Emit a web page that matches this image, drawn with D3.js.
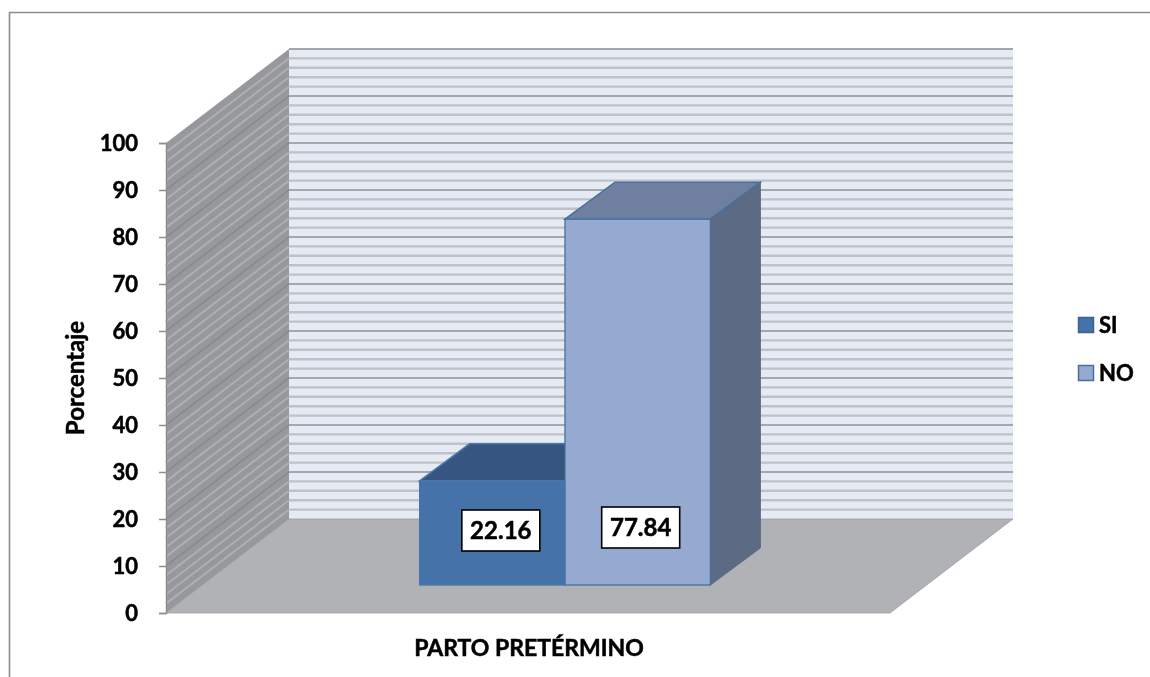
<!DOCTYPE html>
<html>
<head>
<meta charset="utf-8">
<script src="https://cdn.jsdelivr.net/npm/d3@7"></script>
<style>
  html, body { margin: 0; padding: 0; background: #fff; }
  svg { display: block; }
  text { font-family: Lato, sans-serif; font-weight: 700; fill: #000; stroke: #000; stroke-width: 0.5px; }
</style>
</head>
<body>
<div class="chart"></div>
<script>
const categories = ['PARTO PRETÉRMINO'];
const seriesNames = ['SI', 'NO'];
const seriesValues = [22.16, 77.84];
const seriesLabels = ['22.16', '77.84'];
const yTicks = [0, 10, 20, 30, 40, 50, 60, 70, 80, 90, 100];
const minorTicks = d3.range(0, 101, 2);
const yTitle = 'Porcentaje';

const width = 1150;
const height = 677;

// oblique projection, wall depth and bar depth
const wallDx = 123, wallDy = -94;
const barOffDx = 37, barOffDy = -28;
const barDx = 50, barDy = -37;

const colors = {
  SI: { front: '#4472a8', top: '#355781', side: '#2f4d73', stroke: '#4a76aa' },
  NO: { front: '#95a9d1', top: '#6e7f9f', side: '#5d6b84', stroke: '#44709f' }
};

const root = d3.select('.chart').append('svg')
  .attr('width', width)
  .attr('height', height);

// the reference is a slightly soft screenshot
root.append('filter').attr('id', 'soft')
  .attr('x', 0).attr('y', 0).attr('width', 1).attr('height', 1)
  .append('feGaussianBlur').attr('stdDeviation', 0.45);

const svg = root.append('g').attr('filter', 'url(#soft)');
svg.append('rect').attr('width', width).attr('height', height).attr('fill', '#fff');

const y = d3.scaleLinear().domain([0, 100]).range([613, 143]);
const x0 = d3.scaleBand().domain(categories).range([166, 890]);
const x1 = d3.scaleBand().domain(seriesNames)
  .range([x0(categories[0]), x0(categories[0]) + x0.bandwidth()])
  .paddingInner(0).paddingOuter(1.49);

const poly = pts => pts.map(p => p.join(',')).join(' ');

// frame, only top and left show in the picture
svg.append('path')
  .attr('d', `M9.5,${height + 5}V12.5H${width + 5}`)
  .attr('fill', 'none')
  .attr('stroke', '#8c8c8c')
  .attr('stroke-width', 1.6);

const [xl, xr] = x0.range();

// back wall
svg.append('rect')
  .attr('x', xl + wallDx).attr('y', y(100) + wallDy)
  .attr('width', xr - xl).attr('height', y(0) - y(100))
  .attr('fill', '#e6eaf4');

// side wall
svg.append('polygon')
  .attr('points', poly([[xl, y(0)], [xl, y(100)], [xl + wallDx, y(100) + wallDy], [xl + wallDx, y(0) + wallDy]]))
  .attr('fill', '#96989c');

// gridlines on both walls
const isMajor = d => d % 10 === 0;
svg.append('g').selectAll('line')
  .data(minorTicks.filter(d => d > 0))
  .enter().append('line')
  .attr('x1', xl + wallDx).attr('x2', xr + wallDx)
  .attr('y1', d => y(d) + wallDy).attr('y2', d => y(d) + wallDy)
  .attr('stroke', d => isMajor(d) ? '#8f9093' : '#bfc1c4')
  .attr('stroke-width', d => isMajor(d) ? 1.5 : 2.4);

svg.append('g').selectAll('line')
  .data(minorTicks.filter(d => d > 0 && d < 100))
  .enter().append('line')
  .attr('x1', xl).attr('x2', xl + wallDx)
  .attr('y1', d => y(d)).attr('y2', d => y(d) + wallDy)
  .attr('stroke', d => isMajor(d) ? '#85878a' : '#adafb1')
  .attr('stroke-width', d => isMajor(d) ? 1.3 : 2);

svg.append('line')
  .attr('x1', xl + wallDx).attr('x2', xr + wallDx)
  .attr('y1', y(100) + wallDy).attr('y2', y(100) + wallDy)
  .attr('stroke', '#a4a5a8').attr('stroke-width', 1.5);

// floor
svg.append('polygon')
  .attr('points', poly([[xl, y(0)], [xl + wallDx, y(0) + wallDy], [xr + wallDx, y(0) + wallDy], [xr, y(0)]]))
  .attr('fill', '#b0b2b5')
  .attr('stroke', '#9c9ea1')
  .attr('stroke-width', 0.8);

// axis
const axis = d3.axisLeft(y).tickValues(yTicks).tickSize(7).tickPadding(21);
const axisG = svg.append('g').attr('transform', `translate(${xl},0)`).call(axis);
axisG.selectAll('path, line').attr('stroke', '#8e8e8e').attr('stroke-width', 1.5);
axisG.selectAll('text')
  .style('font-family', 'Lato, sans-serif')
  .style('font-weight', 700)
  .style('font-size', '22px')
  .attr('x', -28)
  .attr('fill', '#000');

// bars, NO drawn last because it overlaps SI's top
const bars = svg.append('g');
seriesNames.forEach((name, i) => {
  const c = colors[name];
  const left = x1(name) + barOffDx;
  const right = left + x1.bandwidth();
  const top = y(seriesValues[i]) + barOffDy;
  const bottom = y(0) + barOffDy;
  bars.append('polygon')
    .attr('points', poly([[right, top], [right + barDx, top + barDy], [right + barDx, bottom + barDy], [right, bottom]]))
    .attr('fill', c.side).attr('stroke', c.side).attr('stroke-width', 1);
  bars.append('polygon')
    .attr('points', poly([[left, top], [left + barDx, top + barDy], [right + barDx, top + barDy], [right, top]]))
    .attr('fill', c.top).attr('stroke', c.stroke).attr('stroke-width', 1.5);
  bars.append('rect')
    .attr('x', left).attr('y', top)
    .attr('width', right - left).attr('height', bottom - top)
    .attr('fill', c.front).attr('stroke', c.stroke).attr('stroke-width', 1.3);
});

// value labels were moved by hand in the original
const labelDx = [8.5, 3];
const labelDy = [-54.5, -57.5];
seriesNames.forEach((name, i) => {
  const cx = x1(name) + barOffDx + x1.bandwidth() / 2 + labelDx[i];
  const cy = y(0) + barOffDy + labelDy[i];
  const g = svg.append('g').attr('transform', `translate(${cx},${cy})`);
  g.append('rect')
    .attr('x', -39).attr('y', -20.5)
    .attr('width', 78).attr('height', 41)
    .attr('fill', '#fff').attr('stroke', '#000').attr('stroke-width', 1.6);
  g.append('text')
    .attr('text-anchor', 'middle')
    .attr('dy', '0.36em')
    .style('font-size', '24px')
    .text(seriesLabels[i]);
});

// y title
svg.append('text')
  .attr('transform', 'translate(84,378) rotate(-90)')
  .attr('text-anchor', 'middle')
  .style('font-size', '24px')
  .text(yTitle);

// category label
svg.append('text')
  .attr('x', 529).attr('y', 656)
  .attr('text-anchor', 'middle')
  .style('font-size', '23px')
  .text(categories[0]);

// legend
const legendY = d3.scalePoint().domain(seriesNames).range([325, 373]);
seriesNames.forEach(name => {
  svg.append('rect')
    .attr('x', 1078.5).attr('y', legendY(name) - 7.5)
    .attr('width', 15).attr('height', 15)
    .attr('fill', colors[name].front)
    .attr('stroke', name === 'SI' ? '#3a6291' : '#4a6f9c')
    .attr('stroke-width', 1.5);
  svg.append('text')
    .attr('x', 1099).attr('y', legendY(name))
    .attr('dy', '0.36em')
    .style('font-size', '22px')
    .text(name);
});
</script>
</body>
</html>
